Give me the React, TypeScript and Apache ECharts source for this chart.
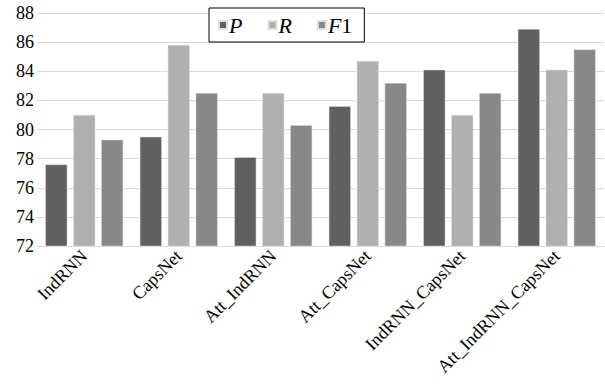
import React, { useEffect, useRef } from "react";
import * as echarts from "echarts";

const categories = ["IndRNN", "CapsNet", "Att_IndRNN", "Att_CapsNet", "IndRNN_CapsNet", "Att_IndRNN_CapsNet"];
const seriesNames = ["P", "R", "F1"];
const pValues = [77.6, 79.5, 78.1, 81.6, 84.1, 86.9];
const rValues = [81.0, 85.8, 82.5, 84.7, 81.0, 84.1];
const f1Values = [79.3, 82.5, 80.3, 83.2, 82.5, 85.5];
const colors = ["#606060", "#b0b0b0", "#888888"];

const FONT = "Liberation Serif";

export default function App() {
  const ref = useRef<HTMLDivElement>(null);
  useEffect(() => {
    if (!ref.current) return;
    const chart = echarts.init(ref.current, undefined, { renderer: "svg" });
    const data = [pValues, rValues, f1Values];
    chart.setOption({
      animation: false,
      backgroundColor: "#ffffff",
      grid: { left: 37, right: 1, top: 13, bottom: 146, containLabel: false },
      legend: {
        left: 209,
        top: 8,
        padding: [6, 12, 6, 9],
        itemWidth: 8,
        itemHeight: 8,
        itemGap: 25,
        borderColor: "#000",
        borderWidth: 1,
        backgroundColor: "#fff",
        icon: "rect",
        data: seriesNames,
        formatter: (name: string) => (name === "F1" ? "{i|F}{n|1}" : "{i|" + name + "}"),
        textStyle: {
          fontFamily: FONT,
          fontSize: 22,
          color: "#000",
          padding: [0, 0, 0, -3],
          rich: {
            i: { fontFamily: FONT, fontSize: 22, fontStyle: "italic", color: "#000" },
            n: { fontFamily: FONT, fontSize: 22, color: "#000" },
          },
        },
      },
      xAxis: {
        type: "category",
        data: categories,
        axisTick: { show: false },
        axisLine: { lineStyle: { color: "#d9d9d9", width: 1 } },
        axisLabel: {
          rotate: 45,
          interval: 0,
          margin: 7,
          fontFamily: FONT,
          fontSize: 18,
          color: "#000",
        },
      },
      yAxis: {
        type: "value",
        min: 72,
        max: 88,
        interval: 2,
        axisLine: { show: false },
        axisTick: { show: false },
        splitLine: { lineStyle: { color: "#d9d9d9", width: 1 } },
        axisLabel: { fontFamily: FONT, fontSize: 18, color: "#000", margin: 3 },
      },
      series: seriesNames.map((name, i) => ({
        name,
        type: "bar",
        data: data[i],
        barWidth: 22,
        barGap: "27%",
        itemStyle: { color: colors[i], borderColor: "#e0e0e0", borderWidth: 0.5 },
      })),
    });
    return () => chart.dispose();
  }, []);
  return <div ref={ref} style={{ width: 605, height: 392, position: "absolute", left: 0, top: 0 }} />;
}
